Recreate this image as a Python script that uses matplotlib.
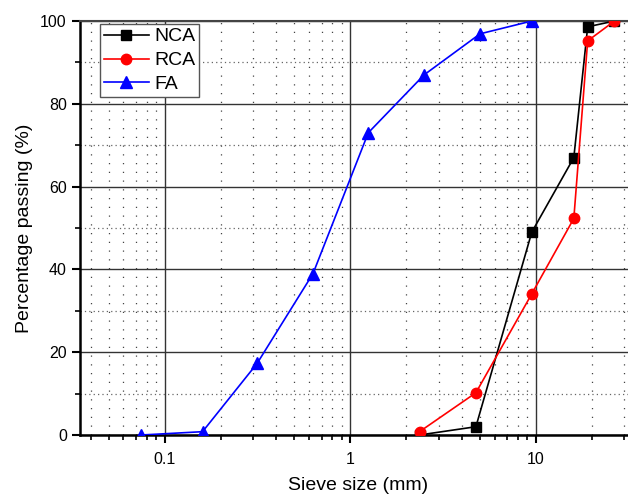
import matplotlib
matplotlib.use("Agg")
import math
import matplotlib.pyplot as plt
from matplotlib.ticker import LogLocator, FixedLocator, NullFormatter, FuncFormatter

plt.rcParams['font.family'] = ['Liberation Sans', 'DejaVu Sans']

nca_x = [2.36, 4.75, 9.5, 16, 19, 26.5]
nca_y = [0, 2, 49, 67, 98.6, 100]
rca_x = [2.36, 4.75, 9.5, 16, 19, 26.5]
rca_y = [0.8, 10.2, 34.1, 52.3, 95.2, 100]
fa_x = [0.075, 0.16, 0.315, 0.63, 1.25, 2.5, 5.0, 9.5]
fa_y = [0, 0.8, 17.3, 39, 73, 87, 96.9, 100]

W, H = 628, 496
fig = plt.figure(figsize=(W / 100, H / 100), dpi=100)

xmin, xmax = 0.035, 35.0
dec = 185.5
left_px = 80
right_px = 536 + (math.log10(xmax) - 1) * dec
top_px, bot_px = 21, 435
ax_w = right_px - left_px
ax = fig.add_axes([left_px / W, (H - bot_px) / H, ax_w / W, (bot_px - top_px) / H])

ax.set_xscale('log')
ax.set_xlim(xmin, xmax)
ax.set_ylim(0, 100)

ax.plot(nca_x, nca_y, color='black', marker='s', markersize=6.5, lw=1.2, label='NCA', zorder=3)
ax.plot(rca_x, rca_y, color='red', marker='o', markersize=7.5, lw=1.2, label='RCA', zorder=4)
ax.plot(fa_x, fa_y, color='blue', marker='^', markersize=8, lw=1.2, label='FA', zorder=3)

ax.xaxis.set_major_locator(LogLocator(base=10, numticks=10))
ax.xaxis.set_minor_locator(LogLocator(base=10, subs=range(2, 10), numticks=20))
ax.xaxis.set_minor_formatter(NullFormatter())
ax.xaxis.set_major_formatter(FuncFormatter(lambda v, p: '%g' % v))
ax.yaxis.set_major_locator(FixedLocator([0, 20, 40, 60, 80, 100]))
ax.yaxis.set_minor_locator(FixedLocator([10, 30, 50, 70, 90]))

ax.grid(which='major', color='#333333', lw=1.0, ls='-', zorder=1)
ax.xaxis.grid(which='minor', color='#444444', lw=0.9, ls=(0, (1, 6)), zorder=1)
ax.yaxis.grid(which='minor', color='#666666', lw=0.9, ls=(0, (1, 2.5)), zorder=1)

ax.tick_params(which='major', direction='out', length=6, width=1.5, labelsize=11.5, colors='black')
ax.tick_params(which='minor', direction='out', length=3.5, width=1.2)
ax.tick_params(axis='x', which='both', top=False, pad=6)
for s in ['left', 'bottom']:
    ax.spines[s].set_linewidth(1.8)
ax.spines['top'].set_linewidth(1.5)
ax.spines['top'].set_color('#444444')
ax.spines['right'].set_visible(False)

ax.set_xlabel('Sieve size (mm)', fontsize=14)
ax.set_ylabel('Percentage passing (%)', fontsize=14)
ax.xaxis.set_label_coords(0.5, -(486 - bot_px) / (bot_px - top_px), transform=ax.transAxes)
ax.xaxis.label.set_va('center')
ax.yaxis.set_label_coords(-(left_px - 25) / ax_w, 0.5, transform=ax.transAxes)
ax.yaxis.label.set_va('center')

leg = ax.legend(loc='upper left', bbox_to_anchor=(20 / ax_w, 1 - 3 / (bot_px - top_px)),
                fontsize=14, frameon=True, fancybox=False, edgecolor='#555555',
                framealpha=1, borderpad=0.2, handlelength=2.3, handletextpad=0.3,
                labelspacing=0.32, borderaxespad=0)
leg.get_frame().set_linewidth(1.0)

fig.savefig('out.png', dpi=100)
